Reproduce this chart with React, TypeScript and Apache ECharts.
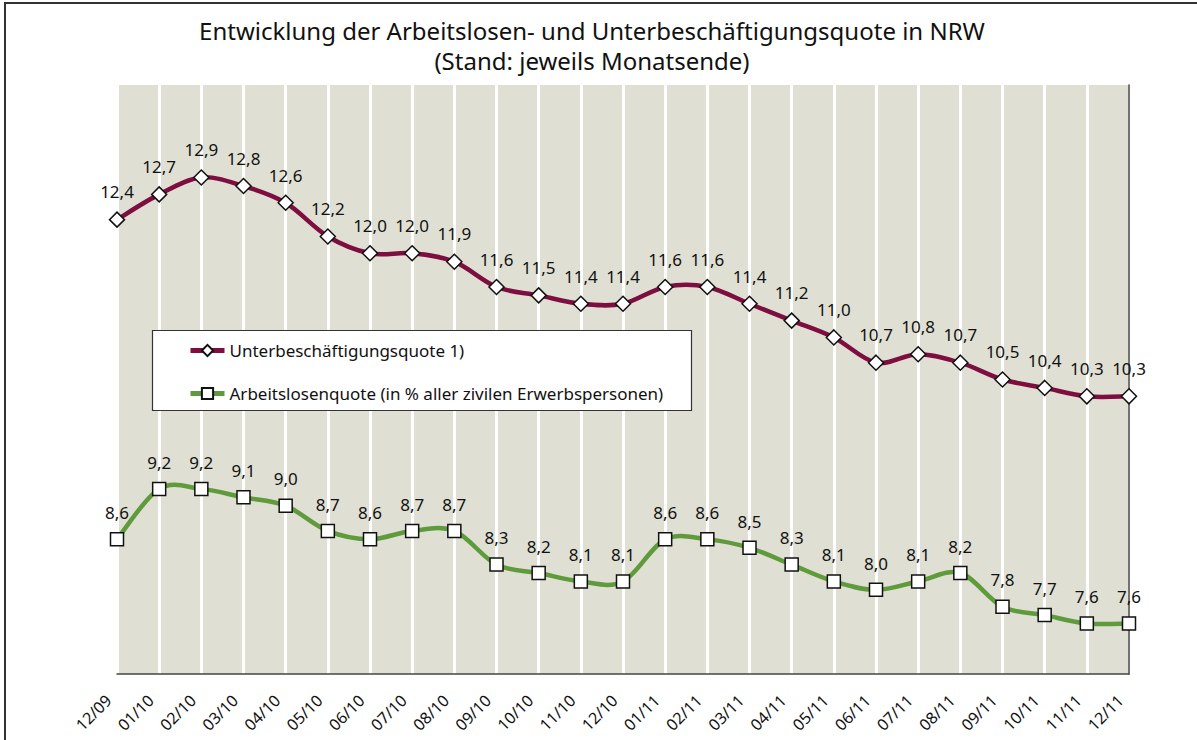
import React, { useEffect, useRef } from "react";
import * as echarts from "echarts";

const categories = ["12/09","01/10","02/10","03/10","04/10","05/10","06/10","07/10","08/10","09/10","10/10","11/10","12/10","01/11","02/11","03/11","04/11","05/11","06/11","07/11","08/11","09/11","10/11","11/11","12/11"];
const unterbeschaeftigung = [12.4,12.7,12.9,12.8,12.6,12.2,12.0,12.0,11.9,11.6,11.5,11.4,11.4,11.6,11.6,11.4,11.2,11.0,10.7,10.8,10.7,10.5,10.4,10.3,10.3];
const arbeitslosen = [8.6,9.2,9.2,9.1,9.0,8.7,8.6,8.7,8.7,8.3,8.2,8.1,8.1,8.6,8.6,8.5,8.3,8.1,8.0,8.1,8.2,7.8,7.7,7.6,7.6];
const titleLines = ["Entwicklung der Arbeitslosen- und Unterbeschäftigungsquote in NRW", "(Stand: jeweils Monatsende)"];
const seriesNames = ["Unterbeschäftigungsquote 1)", "Arbeitslosenquote (in % aller zivilen Erwerbspersonen)"];

const FONT = "'Noto Sans', sans-serif";
const PURPLE = "#7d0e3f";
const GREEN = "#5f9a3b";
const LINE_W = 4.5;
const fmt = (p: any) => Number(p.value).toFixed(1).replace(".", ",");

// Excel-like cardinal spline through points computed by the chart's own scale
function smoothPath(pts: number[][]) {
  const n = pts.length;
  let d = `M${pts[0][0]},${pts[0][1]}`;
  for (let i = 0; i < n - 1; i++) {
    const p0 = pts[Math.max(i - 1, 0)];
    const p1 = pts[i];
    const p2 = pts[i + 1];
    const p3 = pts[Math.min(i + 2, n - 1)];
    const c1x = p1[0] + (p2[0] - p0[0]) / 6;
    const c1y = p1[1] + (p2[1] - p0[1]) / 6;
    const c2x = p2[0] - (p3[0] - p1[0]) / 6;
    const c2y = p2[1] - (p3[1] - p1[1]) / 6;
    d += ` C${c1x},${c1y} ${c2x},${c2y} ${p2[0]},${p2[1]}`;
  }
  return d;
}

function curveSeries(name: string, values: number[], color: string) {
  return {
    name,
    type: "custom",
    coordinateSystem: "cartesian2d",
    data: values.map((v, i) => [i, v]),
    silent: true,
    z: 2,
    renderItem: (params: any, api: any) => {
      if (params.dataIndex !== 0) return { type: "group", children: [] };
      const pts = values.map((v, i) => api.coord([i, v]));
      return {
        type: "path",
        shape: { pathData: smoothPath(pts) },
        style: { fill: "none", stroke: color, lineWidth: LINE_W, lineJoin: "round" },
      };
    },
  };
}

export default function App() {
  const ref = useRef<HTMLDivElement>(null);
  useEffect(() => {
    const chart = echarts.init(ref.current!, null, { renderer: "svg" });
    const labelStyle = { show: true, position: "top", distance: 11, formatter: fmt, fontFamily: FONT, fontSize: 17, color: "#111" };
    const titleStyle = { fontFamily: FONT, fontSize: 24, fontWeight: "normal", color: "#111", lineHeight: 24 };
    chart.setOption({
      animation: false,
      backgroundColor: "#ffffff",
      title: [
        { text: titleLines[0], left: 592, textAlign: "center", top: 18, padding: 0, textStyle: titleStyle },
        { text: titleLines[1], left: 592, textAlign: "center", top: 48, padding: 0, textStyle: titleStyle },
      ],
      graphic: [
        { type: "rect", shape: { x: 5, y: 3, width: 1300, height: 900 }, style: { fill: "none", stroke: "#333", lineWidth: 2 }, z: 100 },
        { type: "rect", shape: { x: 152.5, y: 330.5, width: 539, height: 80 }, style: { fill: "#fff", stroke: "#333", lineWidth: 1.2 }, z: 50 },
      ],
      legend: {
        left: 188,
        top: 342,
        padding: 0,
        orient: "vertical",
        itemWidth: 34,
        itemHeight: 14,
        itemGap: 26,
        z: 60,
        textStyle: { fontFamily: FONT, fontSize: 17, color: "#111" },
        data: [
          { name: seriesNames[0], lineStyle: { color: PURPLE, width: 5, opacity: 1 } },
          { name: seriesNames[1], lineStyle: { color: GREEN, width: 5, opacity: 1 } },
        ],
      },
      grid: {
        left: 117, right: 68, top: 85, bottom: 66,
        containLabel: false, outerBoundsMode: "none",
        show: true, backgroundColor: "#dfe0d3", borderWidth: 0,
      },
      xAxis: {
        type: "category",
        data: categories,
        boundaryGap: false,
        axisLine: { lineStyle: { color: "#444", width: 1.5 } },
        axisTick: { show: false },
        splitLine: { show: true, lineStyle: { color: "#ffffff", width: 3 } },
        axisLabel: { rotate: 45, margin: 15, padding: [0, 12, 0, 0], fontFamily: FONT, fontSize: 16, color: "#111", interval: 0 },
      },
      yAxis: {
        type: "value",
        min: 7,
        max: 14,
        position: "right",
        axisLine: { show: true, lineStyle: { color: "#444", width: 1.5 } },
        axisTick: { show: false },
        axisLabel: { show: false },
        splitLine: { show: false },
      },
      series: [
        curveSeries("curve-u", unterbeschaeftigung, PURPLE),
        curveSeries("curve-a", arbeitslosen, GREEN),
        {
          name: seriesNames[0],
          type: "line",
          data: unterbeschaeftigung,
          symbol: "diamond",
          symbolSize: 15,
          lineStyle: { color: PURPLE, width: LINE_W, opacity: 0 },
          itemStyle: { color: "#ffffff", borderColor: "#111", borderWidth: 1.5 },
          label: labelStyle,
          z: 3,
        },
        {
          name: seriesNames[1],
          type: "line",
          data: arbeitslosen,
          symbol: "rect",
          symbolSize: 13,
          lineStyle: { color: GREEN, width: LINE_W, opacity: 0 },
          itemStyle: { color: "#ffffff", borderColor: "#111", borderWidth: 1.5 },
          label: labelStyle,
          z: 3,
        },
      ],
    });
    return () => chart.dispose();
  }, []);
  return <div ref={ref} style={{ position: "fixed", left: 0, top: 0, width: 1197, height: 740 }} />;
}
